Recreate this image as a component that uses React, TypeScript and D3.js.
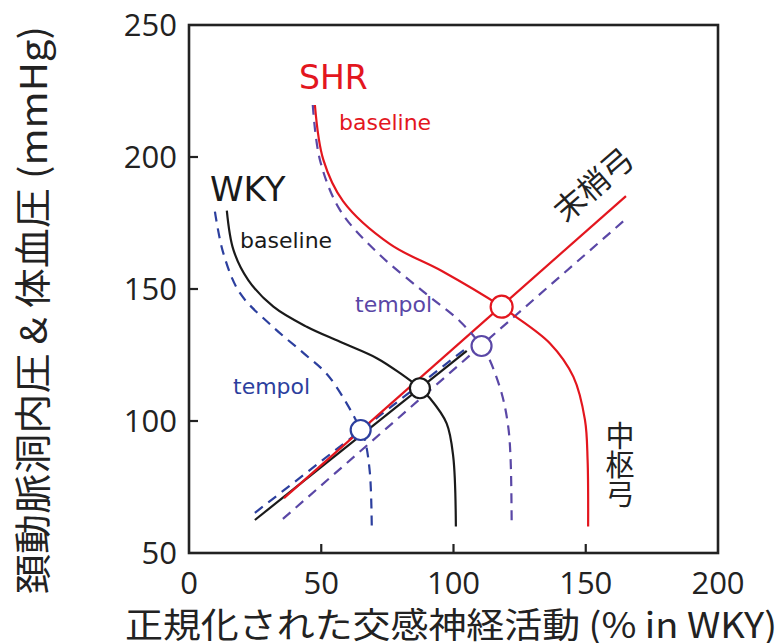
import React from "react";
import * as d3 from "d3";

type Pt = [number, number];

// Axis ticks
const xTicks = [0, 50, 100, 150, 200];
const yTicks = [50, 100, 150, 200, 250];

// Central arc curves (SNA vs pressure)
const wkyBaselineCurve: Pt[] = [
  [14.3, 179.7], [16.8, 164.8], [22.4, 153.4], [31.9, 143.3], [44.5, 135.7],
  [57.1, 130.0], [71.0, 123.8], [79.8, 118.1], [87.3, 112.4], [91.1, 108.6],
  [97.4, 99.1], [99.9, 86.5], [100.9, 60.0],
];
const wkyTempolCurve: Pt[] = [
  [9.8, 179.3], [13.0, 163.5], [19.3, 148.4], [31.9, 135.5], [43.2, 125.8],
  [52.1, 117.8], [59.6, 106.7], [64.9, 96.6], [66.5, 92.8], [68.4, 80.2], [69.1, 60.0],
];
const shrBaselineCurve: Pt[] = [
  [47.6, 219.7], [50.8, 198.9], [58.3, 183.2], [76.0, 167.0], [95.6, 156.8],
  [118.2, 143.3], [122.6, 140.2], [136.5, 129.4], [145.3, 116.8], [149.7, 100.4],
  [150.7, 85.2], [150.9, 60.0],
];
const shrTempolCurve: Pt[] = [
  [46.8, 219.7], [49.5, 198.9], [57.1, 179.9], [71.0, 164.0], [88.6, 149.0],
  [102.4, 137.8], [110.6, 128.4], [113.1, 124.4], [118.2, 110.5], [120.7, 97.8],
  [121.6, 85.2], [122.0, 60.0],
];

// Peripheral arc lines
const wkyBaselineLine: Pt[] = [[24.9, 62.5], [105.0, 126.6]];
const wkyTempolLine: Pt[] = [[24.9, 65.2], [105.0, 127.7]];
const shrBaselineLine: Pt[] = [[35.9, 70.8], [165.2, 185.2]];
const shrTempolLine: Pt[] = [[35.5, 62.9], [165.6, 176.9]];

// Operating points
const opWkyBaseline: Pt = [87.3, 112.4];
const opWkyTempol: Pt = [64.9, 96.6];
const opShrBaseline: Pt = [118.2, 143.3];
const opShrTempol: Pt = [110.6, 128.4];

const RED = "#e3161e";
const BLACK = "#1a1a1a";
const BLUE = "#2c3f9e";
const PURPLE = "#5a47a6";

export default function App() {
  const W = 782, H = 643;
  const x = d3.scaleLinear().domain([0, 200]).range([189, 718]);
  const y = d3.scaleLinear().domain([50, 250]).range([553, 25]);

  const curve = d3.line<Pt>().x(d => x(d[0])).y(d => y(d[1])).curve(d3.curveCatmullRom.alpha(0.5));
  const straight = d3.line<Pt>().x(d => x(d[0])).y(d => y(d[1]));

  const latin = "'DejaVu Sans', Verdana, sans-serif";
  const tickFont = "'Open Sans', 'DejaVu Sans', sans-serif";
  const cjk = "'Noto Sans CJK JP', 'Noto Sans', sans-serif";
  const dash = "10,7";
  const sw = 2.2;

  return (
    <svg width={W} height={H} style={{ position: "absolute", left: 0, top: 0, background: "#fff" }}>
      {/* frame */}
      <rect x={x(0)} y={y(250)} width={x(200) - x(0)} height={y(50) - y(250)} fill="none" stroke="#222" strokeWidth={2.6} />
      {/* inward ticks */}
      {xTicks.filter(v => v > 0 && v < 200).map(v => (
        <line key={"xt" + v} x1={x(v)} x2={x(v)} y1={y(50)} y2={y(50) - 9} stroke="#222" strokeWidth={2.2} />
      ))}
      {yTicks.filter(v => v > 50 && v < 250).map(v => (
        <line key={"yt" + v} x1={x(0)} x2={x(0) + 9} y1={y(v)} y2={y(v)} stroke="#222" strokeWidth={2.2} />
      ))}
      {/* tick labels */}
      {xTicks.map(v => (
        <text key={"xl" + v} x={x(v)} y={594} textAnchor="middle" fontFamily={tickFont} fontSize={31} fill="#222">{v}</text>
      ))}
      {yTicks.map(v => (
        <text key={"yl" + v} x={177} y={y(v) + 11} textAnchor="end" fontFamily={tickFont} fontSize={31} fill="#222">{v}</text>
      ))}
      {/* axis titles */}
      <text x={125} y={638} fontFamily={cjk} fontSize={35} fill="#222" textLength={652} lengthAdjust="spacingAndGlyphs">
        正規化された交感神経活動 (% in WKY)
      </text>
      <text transform={`translate(31,${310}) rotate(-90)`} textAnchor="middle" dominantBaseline="central" fontFamily={cjk} fontSize={37} fill="#222" textLength={568} lengthAdjust="spacingAndGlyphs">
        頚動脈洞内圧 &amp; 体血圧 (mmHg)
      </text>

      {/* peripheral arcs */}
      <path d={straight(shrTempolLine)!} fill="none" stroke={PURPLE} strokeWidth={sw} strokeDasharray={dash} />
      <path d={straight(wkyTempolLine)!} fill="none" stroke={BLUE} strokeWidth={sw} strokeDasharray={dash} />
      <path d={straight(wkyBaselineLine)!} fill="none" stroke={BLACK} strokeWidth={sw} />
      <path d={straight(shrBaselineLine)!} fill="none" stroke={RED} strokeWidth={sw} />

      {/* central arcs */}
      <path d={curve(wkyTempolCurve)!} fill="none" stroke={BLUE} strokeWidth={sw} strokeDasharray={dash} />
      <path d={curve(shrTempolCurve)!} fill="none" stroke={PURPLE} strokeWidth={sw} strokeDasharray={dash} />
      <path d={curve(wkyBaselineCurve)!} fill="none" stroke={BLACK} strokeWidth={sw} />
      <path d={curve(shrBaselineCurve)!} fill="none" stroke={RED} strokeWidth={sw} />

      {/* operating points */}
      <circle cx={x(opWkyTempol[0])} cy={y(opWkyTempol[1])} r={10} fill="#fff" stroke={BLUE} strokeWidth={2.2} />
      <circle cx={x(opShrTempol[0])} cy={y(opShrTempol[1])} r={10} fill="#fff" stroke={PURPLE} strokeWidth={2.2} />
      <circle cx={x(opWkyBaseline[0])} cy={y(opWkyBaseline[1])} r={10} fill="#fff" stroke={BLACK} strokeWidth={2.2} />
      <circle cx={x(opShrBaseline[0])} cy={y(opShrBaseline[1])} r={11} fill="#fff" stroke={RED} strokeWidth={2.2} />

      {/* labels */}
      <text x={299} y={89} fontFamily={latin} fontSize={33} fill={RED}>SHR</text>
      <text x={339} y={130} fontFamily={latin} fontSize={22} fill={RED}>baseline</text>
      <text x={210} y={201} fontFamily={latin} fontSize={34} fill={BLACK}>WKY</text>
      <text x={240} y={248} fontFamily={latin} fontSize={22} fill={BLACK}>baseline</text>
      <text x={355} y={312} fontFamily={latin} fontSize={22} fill={PURPLE}>tempol</text>
      <text x={233} y={394} fontFamily={latin} fontSize={22} fill={BLUE}>tempol</text>
      <text transform="translate(592,183) rotate(-41)" textAnchor="middle" dominantBaseline="central" fontFamily={cjk} fontSize={31} fill="#222">末梢弓</text>
      <text x={620} y={421} fontFamily={cjk} fontSize={29} fill="#222" style={{ writingMode: "vertical-rl", textOrientation: "upright" } as any}>中枢弓</text>
    </svg>
  );
}
